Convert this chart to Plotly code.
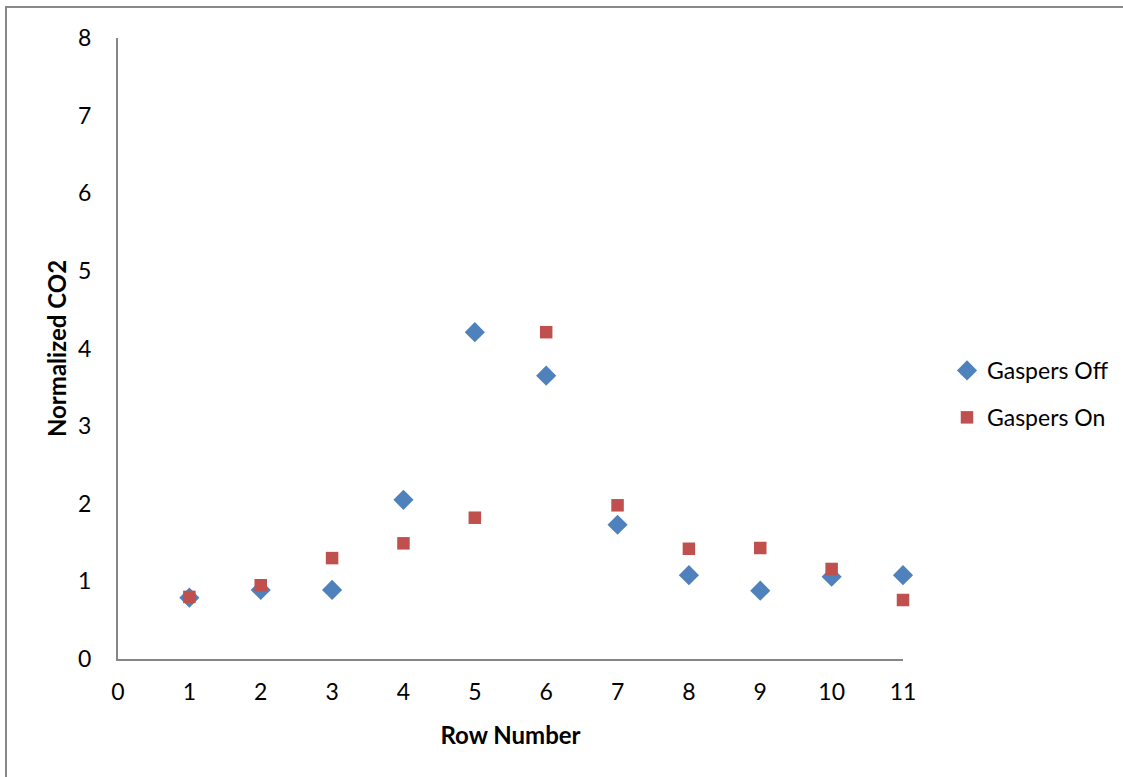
import plotly.graph_objects as go

rows = [1, 2, 3, 4, 5, 6, 7, 8, 9, 10, 11]
gaspers_off = [0.79, 0.89, 0.89, 2.05, 4.21, 3.65, 1.73, 1.08, 0.88, 1.06, 1.08]
gaspers_on = [0.80, 0.95, 1.30, 1.49, 1.82, 4.21, 1.98, 1.42, 1.43, 1.16, 0.76]

W, H = 1123, 777
L, R, T, B = 118, 220, 38, 118
pw, ph = W - L - R, H - T - B

def px_x(x):
    return (x - L) / pw

def px_y(y):
    return (H - B - y) / ph

FONT = "Lato, 'Open Sans', sans-serif"

fig = go.Figure()
fig.add_trace(go.Scatter(
    x=rows, y=gaspers_off, mode="markers", name="Gaspers Off",
    legendgroup="off", cliponaxis=False,
    marker=dict(symbol="diamond", size=15.5, color="#4F81BD", line=dict(width=0)),
))
fig.add_trace(go.Scatter(
    x=rows, y=gaspers_on, mode="markers", name="Gaspers On",
    legendgroup="on", cliponaxis=False,
    marker=dict(symbol="square", size=12.5, color="#C0504D", line=dict(width=0)),
))

fig.update_layout(
    width=W, height=H,
    margin=dict(l=L, r=R, t=T, b=B, autoexpand=False),
    paper_bgcolor="white", plot_bgcolor="white",
    font=dict(family=FONT, size=23, color="black"),
    showlegend=True,
    legend=dict(x=px_x(947), y=px_y(394), xanchor="left", yanchor="middle",
                font=dict(size=23), traceorder="grouped", tracegroupgap=14,
                bgcolor="rgba(0,0,0,0)", itemsizing="trace"),
    xaxis=dict(range=[0, 11], dtick=1, tick0=0, showgrid=False, zeroline=False,
               showline=True, linecolor="#868686", linewidth=2, ticks="",
               ticklabelstandoff=11,
               title=dict(text="<b>Row Number</b>", font=dict(size=24), standoff=24)),
    yaxis=dict(range=[0, 8], dtick=1, tick0=0, showgrid=False, zeroline=False,
               showline=True, linecolor="#868686", linewidth=2, ticks="",
               ticklabelstandoff=20,
               title=dict(text="<b>Normalized CO2</b>", font=dict(size=24), standoff=5)),
    shapes=[dict(type="rect", xref="paper", yref="paper",
                 x0=px_x(6), y0=px_y(790), x1=px_x(1135), y1=px_y(7),
                 line=dict(color="#888888", width=2), fillcolor="rgba(0,0,0,0)",
                 layer="below")],
)

fig.write_html("out.html")
